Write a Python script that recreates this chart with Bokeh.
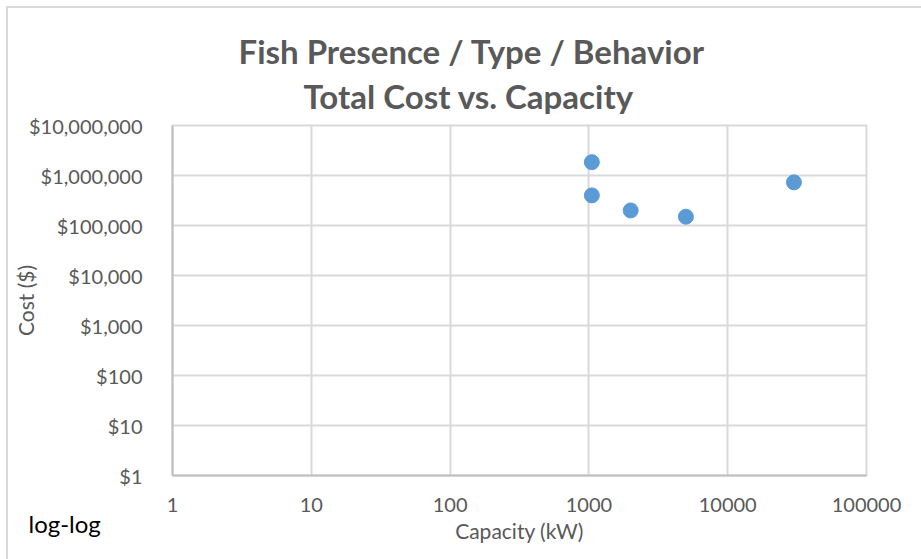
from bokeh.plotting import figure
from bokeh.models import FixedTicker, CustomJSTickFormatter, Title, ColumnDataSource
from bokeh.embed import file_html
from bokeh.resources import INLINE

# ---- data ----
capacity_kw = [1050, 1050, 2000, 5000, 30000]
total_cost = [1850000, 400000, 200000, 150000, 730000]

x_ticks = [1, 10, 100, 1000, 10000, 100000]
x_tick_labels = ["1", "10", "100", "1000", "10000", "100000"]
y_ticks = [1, 10, 100, 1000, 10000, 100000, 1000000, 10000000]
y_tick_labels = ["$1", "$10", "$100", "$1,000", "$10,000", "$100,000", "$1,000,000", "$10,000,000"]

title_line1 = "Fish Presence / Type / Behavior"
title_line2 = "Total Cost vs. Capacity"
x_label = "Capacity (kW)"
y_label = "Cost ($)"
note = "log-log"

FONT = "Lato"
GREY = "#595959"

src = ColumnDataSource(dict(x=capacity_kw, y=total_cost))

p = figure(width=921, height=559, x_axis_type="log", y_axis_type="log",
           x_range=(x_ticks[0], x_ticks[-1]), y_range=(y_ticks[0], y_ticks[-1]),
           output_backend="svg", toolbar_location=None,
           min_border_left=172, min_border_right=55, min_border_top=125, min_border_bottom=84)
p.border_fill_color = None
p.background_fill_color = "white"
p.styles = {"box-shadow": "inset 6px 6px 0 0 #ffffff, inset 8px 8px 0 0 #d9d9d9"}

p.title.text = title_line1
p.title.text_font = FONT
p.title.text_font_size = "33px"
p.title.text_font_style = "bold"
p.title.text_color = GREY
p.title.align = "left"
p.title.offset = 66
p.title.standoff = -14

t2 = Title(text=title_line2, text_font=FONT, text_font_size="33px", text_font_style="bold",
           text_color=GREY, align="left", offset=131, standoff=20)
p.add_layout(t2, "above")

p.scatter("x", "y", source=src, size=15, color="#5b9bd5", line_color="#5b9bd5")

fmt_code = """
const i = vals.findIndex(v => Math.abs(Math.log10(v) - Math.log10(tick)) < 1e-6);
return i >= 0 ? labels[i] : "";
"""
p.xaxis.ticker = FixedTicker(ticks=x_ticks, minor_ticks=[])
p.yaxis.ticker = FixedTicker(ticks=y_ticks, minor_ticks=[])
p.xaxis.formatter = CustomJSTickFormatter(args=dict(vals=x_ticks, labels=x_tick_labels), code=fmt_code)
p.yaxis.formatter = CustomJSTickFormatter(args=dict(vals=y_ticks, labels=y_tick_labels), code=fmt_code)

for ax in (p.xaxis, p.yaxis):
    ax.major_tick_line_color = None
    ax.minor_tick_line_color = None
    ax.axis_line_color = "#bfbfbf"
    ax.axis_line_width = 2
    ax.major_label_text_font = FONT
    ax.major_label_text_font_size = "20px"
    ax.major_label_text_color = GREY
    ax.axis_label_text_font = FONT
    ax.axis_label_text_font_size = "21px"
    ax.axis_label_text_color = GREY
    ax.axis_label_text_font_style = "normal"

p.xaxis.axis_label = x_label
p.yaxis.axis_label = y_label
p.xaxis.major_label_standoff = 16
p.yaxis.major_label_standoff = 24
p.xaxis.axis_label_standoff = 3
p.yaxis.axis_label_standoff = -12

p.grid.grid_line_color = "#d9d9d9"
p.grid.grid_line_width = 2
p.outline_line_color = "#d9d9d9"
p.outline_line_width = 2

note_title = Title(text=note, text_font=FONT, text_font_size="24px", text_font_style="normal",
                   text_color="#000000", align="left", offset=-144, vertical_align="top",
                   standoff=-74)
p.add_layout(note_title, "below")

open("out.html", "w").write(file_html(p, INLINE))
